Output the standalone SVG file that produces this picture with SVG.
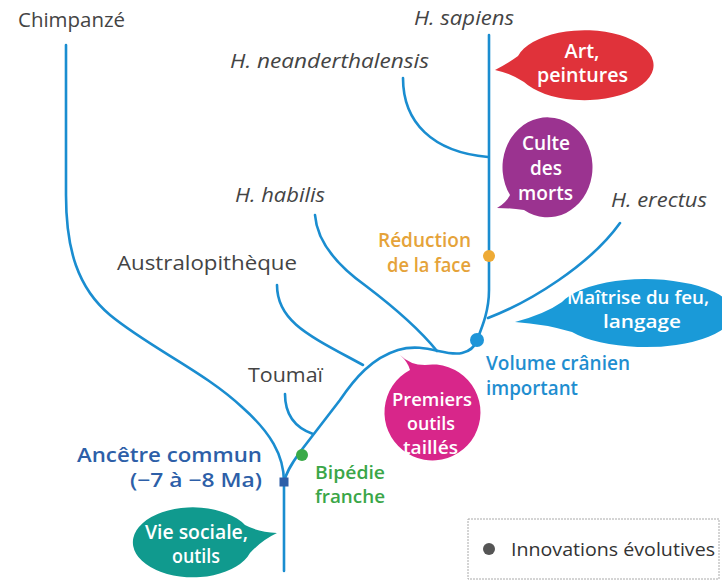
<svg xmlns="http://www.w3.org/2000/svg" width="722" height="582" viewBox="0 0 722 582">
<style>
.br{fill:none;stroke:#1a8dd0;stroke-width:2.6;stroke-linecap:round}
text{font-family:"Open Sans","Noto Sans",sans-serif;}
.lbl{font-size:20px;fill:#444}
.it{font-style:italic}
.bub{font-size:19px;font-weight:600;fill:#fff;text-anchor:middle}
.inn{font-size:19px;font-weight:600}
.sm{font-size:17.5px}
</style>
<rect width="722" height="582" fill="#fff"/>
<g id="connectors">
<path class="br" d="M66,45 V195 C66,250 78,288 110,315 C150,348 205,372 243,408 C270,432 284,455 284,482 V571"/>
<path class="br" d="M284,482 C286,473 290,466 300,452 L340,400 C355,378 372,358 398,350 C425,342 445,357 462,353 C471,351 475,346 477,340 C483,325 489,310 489,290 V35"/>
<path class="br" d="M285,394 C285,416 296,428 313,434"/>
<path class="br" d="M277,285 C277,322 310,336 363,365"/>
<path class="br" d="M315,215 C317,242 338,266 366,286 C395,308 420,330 437,351"/>
<path class="br" d="M403,78 C403,122 432,152 488,157"/>
<path class="br" d="M488,318 C530,302 590,265 620,223"/>
</g>
<g id="chimpanze"><text class="lbl" x="18" y="27" textLength="107" lengthAdjust="spacingAndGlyphs">Chimpanzé</text></g>
<g id="sapiens"><text class="lbl it" x="414" y="25" textLength="100" lengthAdjust="spacingAndGlyphs">H. sapiens</text></g>
<g id="neanderthalensis"><text class="lbl it" x="230" y="68" textLength="199" lengthAdjust="spacingAndGlyphs">H. neanderthalensis</text></g>
<g id="habilis"><text class="lbl it" x="235" y="202" textLength="90" lengthAdjust="spacingAndGlyphs">H. habilis</text></g>
<g id="erectus"><text class="lbl it" x="611" y="207" textLength="96" lengthAdjust="spacingAndGlyphs">H. erectus</text></g>
<g id="australopitheque"><text class="lbl" x="117" y="270" textLength="180" lengthAdjust="spacingAndGlyphs">Australopithèque</text></g>
<g id="toumai"><text class="lbl" x="248" y="382" textLength="75" lengthAdjust="spacingAndGlyphs">Toumaï</text></g>
<g id="ancetre">
<rect x="279.5" y="477.5" width="9" height="9" fill="#2d5fa8"/>
<text class="inn" font-size="19" x="77" y="462" fill="#2d5fa8" textLength="185" lengthAdjust="spacingAndGlyphs">Ancêtre commun</text>
<text class="inn" font-size="19" x="130" y="487" fill="#2d5fa8" textLength="132" lengthAdjust="spacingAndGlyphs">(−7 à −8 Ma)</text>
</g>
<g id="bipedie">
<circle cx="302" cy="455" r="6" fill="#3aaa48"/>
<text class="inn sm" x="315" y="479" fill="#3aa648" textLength="70" lengthAdjust="spacingAndGlyphs">Bipédie</text>
<text class="inn sm" x="315" y="503" fill="#3aa648" textLength="70" lengthAdjust="spacingAndGlyphs">franche</text>
</g>
<g id="reduction">
<circle cx="489" cy="256" r="6" fill="#eeaa35"/>
<text class="inn" x="378" y="247" fill="#e5a33a" textLength="93" lengthAdjust="spacingAndGlyphs">Réduction</text>
<text class="inn" x="387" y="272" fill="#e5a33a" textLength="84" lengthAdjust="spacingAndGlyphs">de la face</text>
</g>
<g id="volume">
<circle cx="477" cy="340" r="7" fill="#1f95d8"/>
<text class="inn" x="486" y="370" fill="#1f8ed0" textLength="144" lengthAdjust="spacingAndGlyphs">Volume crânien</text>
<text class="inn" x="486" y="395" fill="#1f8ed0" textLength="92" lengthAdjust="spacingAndGlyphs">important</text>
</g>
<g id="art">
<path d="M495,70 Q510,62 518,56 A69,35 0 1 1 524,82 Q510,73 495,70 Z" fill="#e0323a"/>
<text class="bub" x="582" y="58" textLength="35" lengthAdjust="spacingAndGlyphs">Art,</text>
<text class="bub" x="582.5" y="82" textLength="91" lengthAdjust="spacingAndGlyphs">peintures</text>
</g>
<g id="culte">
<path d="M497,208 Q506,203 510,195 A45,50 0 1 1 524,210 Q510,208 497,208 Z" fill="#9b3390"/>
<text class="bub" x="546" y="150" textLength="48" lengthAdjust="spacingAndGlyphs">Culte</text>
<text class="bub" x="546" y="175" textLength="32" lengthAdjust="spacingAndGlyphs">des</text>
<text class="bub" x="545.5" y="200" textLength="55" lengthAdjust="spacingAndGlyphs">morts</text>
</g>
<g id="maitrise">
<path d="M515,322 Q545,314 562,302 A88,34 0 1 1 572,332 Q545,324 515,322 Z" fill="#1a9ad8"/>
<text class="bub sm" x="638" y="304" textLength="142" lengthAdjust="spacingAndGlyphs">Maîtrise du feu,</text>
<text class="bub sm" x="642" y="328" textLength="78" lengthAdjust="spacingAndGlyphs">langage</text>
</g>
<g id="premiers">
<path d="M400,355 Q408,362 410,370 A48,48 0 1 0 425,365 Q410,365 400,355 Z" fill="#d8268a"/>
<text class="bub sm" x="432" y="406" textLength="80" lengthAdjust="spacingAndGlyphs">Premiers</text>
<text class="bub sm" x="431" y="430" textLength="48" lengthAdjust="spacingAndGlyphs">outils</text>
<text class="bub sm" x="430.5" y="454" textLength="55" lengthAdjust="spacingAndGlyphs">taillés</text>
</g>
<g id="vie">
<path d="M277,533 Q258,532 245,525 A60,35 0 1 0 250,553 Q262,540 277,533 Z" fill="#109a8e"/>
<text class="bub" x="196.5" y="539" textLength="103" lengthAdjust="spacingAndGlyphs">Vie sociale,</text>
<text class="bub" x="196" y="563" textLength="48" lengthAdjust="spacingAndGlyphs">outils</text>
</g>
<g id="legend">
<rect x="468" y="519" width="251" height="60" fill="#fff" stroke="#aaa" stroke-width="1" stroke-dasharray="2,1"/>
<circle cx="489" cy="549" r="6" fill="#555"/>
<text x="511" y="556" font-size="18" fill="#333" textLength="204" lengthAdjust="spacingAndGlyphs">Innovations évolutives</text>
</g>
</svg>
